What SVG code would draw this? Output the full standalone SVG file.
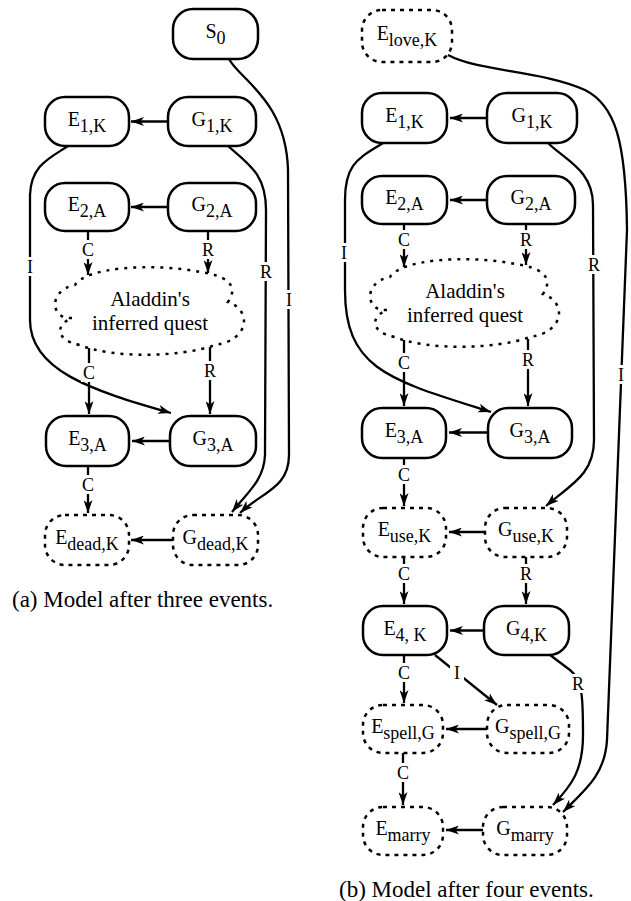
<svg xmlns="http://www.w3.org/2000/svg" width="631" height="901" viewBox="0 0 631 901">
<defs>
<marker id="ah" viewBox="0 0 13 9" refX="13" refY="4.5" markerWidth="13" markerHeight="9" markerUnits="userSpaceOnUse" orient="auto"><path d="M0,0 L13,4.5 L0,9 L3.5,4.5 z" fill="#000"/></marker>
<path id="cloud" d="M72,318 C50,320 48,290 75,285 C85,268 150,262 200,272 C225,275 240,285 228,302 C252,310 250,340 215,345 C180,358 110,358 80,345 C55,340 55,325 72,318 Z"/>
</defs>
<style>
.n{fill:#fff;stroke:#000;stroke-width:2.5}
.d{fill:#fff;stroke:#000;stroke-width:2.5;stroke-dasharray:4 5}
.c{fill:#fff;stroke:#000;stroke-width:2.5;stroke-dasharray:3 6}
.e{fill:none;stroke:#000;stroke-width:2.3;marker-end:url(#ah)}
text{font-family:"Liberation Serif","Times New Roman",serif;fill:#000}
.t{font-size:20px;text-anchor:middle}
.s{font-size:18px}
.q{font-size:21px;text-anchor:middle}
.l{font-size:18px;text-anchor:middle}
.lb{fill:#fff}
.cap{font-size:23px}
</style>
<rect width="631" height="901" fill="#fff"/>

<!-- Left panel nodes -->
<g id="a_S0"><rect class="n" x="173" y="9" width="85" height="50" rx="20"/><text class="t" x="215.5" y="38">S<tspan class="s" dy="6">0</tspan></text></g>
<g id="a_E1K"><rect class="n" x="45" y="97" width="84" height="49" rx="20"/><text class="t" x="87" y="125.5">E<tspan class="s" dy="6">1,K</tspan></text></g>
<g id="a_G1K"><rect class="n" x="168" y="97" width="88" height="49" rx="20"/><text class="t" x="212" y="125.5">G<tspan class="s" dy="6">1,K</tspan></text></g>
<g id="a_E2A"><rect class="n" x="45" y="183" width="84" height="48" rx="20"/><text class="t" x="87" y="211">E<tspan class="s" dy="6">2,A</tspan></text></g>
<g id="a_G2A"><rect class="n" x="168" y="183" width="88" height="48" rx="20"/><text class="t" x="212" y="211">G<tspan class="s" dy="6">2,A</tspan></text></g>
<g id="a_quest"><use href="#cloud" class="c"/><text class="q" x="150" y="306">Aladdin's</text><text class="q" x="150" y="330">inferred quest</text></g>
<g id="a_E3A"><rect class="n" x="46" y="416" width="83" height="50" rx="20"/><text class="t" x="87.5" y="445">E<tspan class="s" dy="6">3,A</tspan></text></g>
<g id="a_G3A"><rect class="n" x="170" y="416" width="86" height="50" rx="20"/><text class="t" x="213" y="445">G<tspan class="s" dy="6">3,A</tspan></text></g>
<g id="a_Edead"><rect class="d" x="45" y="515" width="84" height="50" rx="20"/><text class="t" x="87" y="544">E<tspan class="s" dy="6">dead,K</tspan></text></g>
<g id="a_Gdead"><rect class="d" x="173" y="515" width="85" height="50" rx="20"/><text class="t" x="215.5" y="544">G<tspan class="s" dy="6">dead,K</tspan></text></g>

<!-- Right panel nodes -->
<g id="b_Elove"><rect class="d" x="362" y="10" width="90" height="52" rx="20"/><text class="t" x="407" y="40">E<tspan class="s" dy="6">love,K</tspan></text></g>
<g id="b_E1K"><rect class="n" x="362" y="93" width="85" height="50" rx="20"/><text class="t" x="404.5" y="122">E<tspan class="s" dy="6">1,K</tspan></text></g>
<g id="b_G1K"><rect class="n" x="487" y="93" width="90" height="50" rx="20"/><text class="t" x="532" y="122">G<tspan class="s" dy="6">1,K</tspan></text></g>
<g id="b_E2A"><rect class="n" x="362" y="176" width="85" height="48" rx="20"/><text class="t" x="404.5" y="204">E<tspan class="s" dy="6">2,A</tspan></text></g>
<g id="b_G2A"><rect class="n" x="487" y="176" width="88" height="48" rx="20"/><text class="t" x="531" y="204">G<tspan class="s" dy="6">2,A</tspan></text></g>
<g id="b_quest"><use href="#cloud" class="c" transform="translate(315,-8)"/><text class="q" x="465" y="298">Aladdin's</text><text class="q" x="465" y="322">inferred quest</text></g>
<g id="b_E3A"><rect class="n" x="362" y="408" width="84" height="50" rx="20"/><text class="t" x="404" y="437">E<tspan class="s" dy="6">3,A</tspan></text></g>
<g id="b_G3A"><rect class="n" x="488" y="408" width="84" height="50" rx="20"/><text class="t" x="530" y="437">G<tspan class="s" dy="6">3,A</tspan></text></g>
<g id="b_Euse"><rect class="d" x="363" y="508" width="83" height="49" rx="20"/><text class="t" x="404.5" y="536">E<tspan class="s" dy="6">use,K</tspan></text></g>
<g id="b_Guse"><rect class="d" x="485" y="508" width="82" height="49" rx="20"/><text class="t" x="526" y="536">G<tspan class="s" dy="6">use,K</tspan></text></g>
<g id="b_E4K"><rect class="n" x="363" y="606" width="84" height="49" rx="20"/><text class="t" x="405" y="634.5">E<tspan class="s" dy="6">4, K</tspan></text></g>
<g id="b_G4K"><rect class="n" x="484" y="606" width="85" height="49" rx="20"/><text class="t" x="526.5" y="634.5">G<tspan class="s" dy="6">4,K</tspan></text></g>
<g id="b_Espell"><rect class="d" x="363" y="705" width="80" height="48" rx="20"/><text class="t" x="403" y="733">E<tspan class="s" dy="6">spell,G</tspan></text></g>
<g id="b_Gspell"><rect class="d" x="487" y="705" width="82" height="48" rx="20"/><text class="t" x="528" y="733">G<tspan class="s" dy="6">spell,G</tspan></text></g>
<g id="b_Emarry"><rect class="d" x="363" y="807" width="80" height="48" rx="20"/><text class="t" x="403" y="835">E<tspan class="s" dy="6">marry</tspan></text></g>
<g id="b_Gmarry"><rect class="d" x="483" y="807" width="84" height="48" rx="20"/><text class="t" x="525" y="835">G<tspan class="s" dy="6">marry</tspan></text></g>

<!-- Connectors -->
<g id="connectors">
<path class="e" d="M168,121.5 H131"/>
<path class="e" d="M168,207 H131"/>
<path class="e" d="M170,441 H132"/>
<path class="e" d="M173,540 H131"/>
<path class="e" d="M88,231 V275"/>
<path class="e" d="M208,231 V273"/>
<path class="e" d="M89,348 V414"/>
<path class="e" d="M210,347 V414"/>
<path class="e" d="M88,466 V513"/>
<path class="e" d="M68,146 C50,158 31,165 30,195 L30,320 C30,370 90,390 171,413"/>
<path class="e" d="M228,146 C250,165 266,175 266,210 L265,455 C264,480 248,492 232,512"/>
<path class="e" d="M229,59 C240,80 286,100 288,170 L289,455 C289,488 262,492 240,513"/>
<rect class="lb" x="80" y="240" width="16" height="19"/><text class="l" x="88" y="256">C</text>
<rect class="lb" x="200" y="240" width="16" height="19"/><text class="l" x="208" y="256">R</text>
<rect class="lb" x="81" y="363" width="16" height="19"/><text class="l" x="89" y="379">C</text>
<rect class="lb" x="202" y="361" width="16" height="19"/><text class="l" x="210" y="377">R</text>
<rect class="lb" x="80" y="475" width="16" height="19"/><text class="l" x="88" y="491">C</text>
<rect class="lb" x="24" y="257" width="12" height="19"/><text class="l" x="30" y="273">I</text>
<rect class="lb" x="258" y="262" width="16" height="19"/><text class="l" x="266" y="278">R</text>
<rect class="lb" x="283" y="290" width="12" height="19"/><text class="l" x="289" y="306">I</text>

<path class="e" d="M487,118 H450"/>
<path class="e" d="M487,200 H450"/>
<path class="e" d="M488,432.5 H449"/>
<path class="e" d="M485,532 H449"/>
<path class="e" d="M484,630.5 H450"/>
<path class="e" d="M487,729 H446"/>
<path class="e" d="M483,830 H446"/>
<path class="e" d="M404,224 V267"/>
<path class="e" d="M526,224 V265"/>
<path class="e" d="M404,340 V406"/>
<path class="e" d="M528,339 V406"/>
<path class="e" d="M404,458 V506"/>
<path class="e" d="M404,557 V604"/>
<path class="e" d="M526,557 V604"/>
<path class="e" d="M404,655 V703"/>
<path class="e" d="M435,655 L497,705"/>
<path class="e" d="M403,753 V805"/>
<path class="e" d="M550,655 L570,670 C583,680 583,700 583,735 C583,770 572,785 553,805"/>
<path class="e" d="M448,55 C480,72 540,70 585,90 C615,105 626,140 627,230 L607,740 C605,775 585,790 563,812"/>
<path class="e" d="M548,143 C565,160 593,170 593,205 L594,440 C594,475 570,485 546,506"/>
<path class="e" d="M383,143 C360,158 345,162 345,200 L345,290 C345,370 390,380 491,412"/>
<rect class="lb" x="396" y="230" width="16" height="19"/><text class="l" x="404" y="246">C</text>
<rect class="lb" x="518" y="230" width="16" height="19"/><text class="l" x="526" y="246">R</text>
<rect class="lb" x="396" y="353" width="16" height="19"/><text class="l" x="404" y="369">C</text>
<rect class="lb" x="520" y="350" width="16" height="19"/><text class="l" x="528" y="366">R</text>
<rect class="lb" x="396" y="465" width="16" height="19"/><text class="l" x="404" y="481">C</text>
<rect class="lb" x="396" y="564" width="16" height="19"/><text class="l" x="404" y="580">C</text>
<rect class="lb" x="518" y="564" width="16" height="19"/><text class="l" x="526" y="580">R</text>
<rect class="lb" x="396" y="663" width="16" height="19"/><text class="l" x="404" y="679">C</text>
<rect class="lb" x="450" y="663" width="14" height="19"/><text class="l" x="457" y="679">I</text>
<rect class="lb" x="395" y="763" width="16" height="19"/><text class="l" x="403" y="779">C</text>
<rect class="lb" x="570" y="674" width="16" height="19"/><text class="l" x="578" y="690">R</text>
<rect class="lb" x="615" y="365" width="12" height="19"/><text class="l" x="621" y="381">I</text>
<rect class="lb" x="586" y="255" width="16" height="19"/><text class="l" x="594" y="271">R</text>
<rect class="lb" x="338" y="243" width="12" height="19"/><text class="l" x="344" y="259">I</text>
</g>

<text class="cap" x="12" y="607">(a) Model after three events.</text>
<text class="cap" x="339" y="897">(b) Model after four events.</text>
</svg>
